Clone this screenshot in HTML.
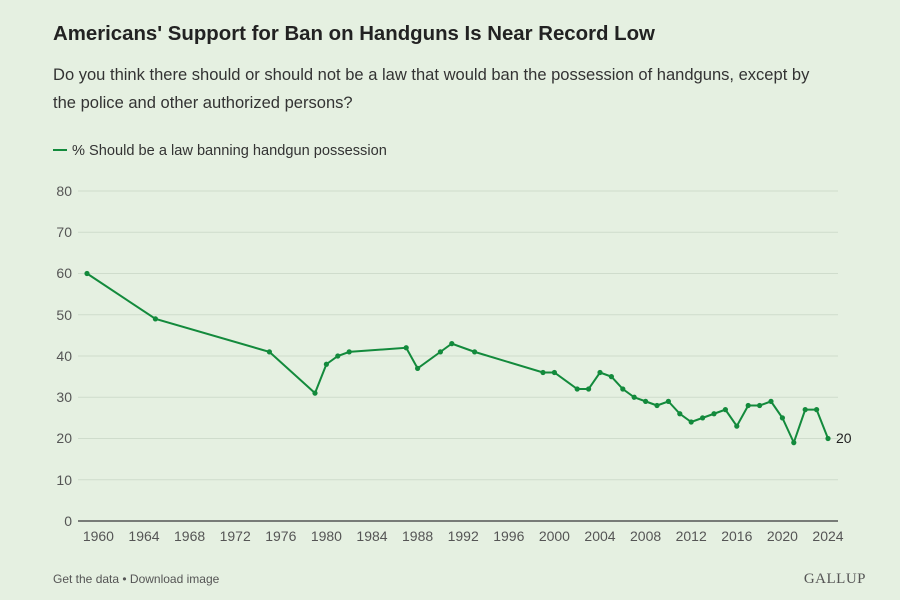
<!DOCTYPE html>
<html><head><meta charset="utf-8"><style>
body{margin:0;background:#e5f0e1;font-family:"Liberation Sans",sans-serif;}
</style></head><body>
<svg width="900" height="600" xmlns="http://www.w3.org/2000/svg" style="display:block;background:#e5f0e1">
<text x="53" y="40" font-size="20.4" font-weight="bold" fill="#222">Americans' Support for Ban on Handguns Is Near Record Low</text>
<text x="53" y="80" font-size="16.55" fill="#333">Do you think there should or should not be a law that would ban the possession of handguns, except by</text>
<text x="53" y="108" font-size="16.55" fill="#333">the police and other authorized persons?</text>
<line x1="53" y1="150" x2="67" y2="150" stroke="#138a3c" stroke-width="2"/>
<text x="72" y="155" font-size="14.6" fill="#333">% Should be a law banning handgun possession</text>
<g stroke="#cfdccc" stroke-width="1">
<line x1="78" x2="838" y1="191" y2="191"/><line x1="78" x2="838" y1="232.25" y2="232.25"/>
<line x1="78" x2="838" y1="273.5" y2="273.5"/><line x1="78" x2="838" y1="314.75" y2="314.75"/>
<line x1="78" x2="838" y1="356" y2="356"/><line x1="78" x2="838" y1="397.25" y2="397.25"/>
<line x1="78" x2="838" y1="438.5" y2="438.5"/><line x1="78" x2="838" y1="479.75" y2="479.75"/>
</g>
<line x1="78" x2="838" y1="521" y2="521" stroke="#555" stroke-width="1.5"/>
<g font-size="14" fill="#555" text-anchor="end">
<text x="72" y="196">80</text><text x="72" y="237">70</text><text x="72" y="278">60</text><text x="72" y="320">50</text>
<text x="72" y="361">40</text><text x="72" y="402">30</text><text x="72" y="443">20</text><text x="72" y="485">10</text><text x="72" y="526">0</text>
</g>
<g font-size="14" fill="#555" text-anchor="middle" id="xl"></g>
<polyline id="pl" fill="none" stroke="#138a3c" stroke-width="2"/>
<g id="pts" fill="#138a3c"></g>
<text x="836" y="443" font-size="14" fill="#222">20</text>
<text x="53" y="583" font-size="12" fill="#555">Get the data • Download image</text>
<text x="866" y="583" font-size="15" fill="#555" text-anchor="end" font-family="Liberation Serif,serif" letter-spacing="0.5">GALLUP</text>
<script>
var d=[[1959,60],[1965,49],[1975,41],[1979,31],[1980,38],[1981,40],[1982,41],[1987,42],[1988,37],[1990,41],[1991,43],[1993,41],[1999,36],[2000,36],[2002,32],[2003,32],[2004,36],[2005,35],[2006,32],[2007,30],[2008,29],[2009,28],[2010,29],[2011,26],[2012,24],[2013,25],[2014,26],[2015,27],[2016,23],[2017,28],[2018,28],[2019,29],[2020,25],[2021,19],[2022,27],[2023,27],[2024,20]];
function X(y){return 828-(2024-y)*11.4}function Y(v){return 521-v*4.125}
var ns="http://www.w3.org/2000/svg",p=[],g=document.getElementById('pts');
d.forEach(function(a){p.push(X(a[0])+','+Y(a[1]));var c=document.createElementNS(ns,'circle');c.setAttribute('cx',X(a[0]));c.setAttribute('cy',Y(a[1]));c.setAttribute('r',2.6);g.appendChild(c);});
document.getElementById('pl').setAttribute('points',p.join(' '));
var xl=document.getElementById('xl');for(var y=1960;y<=2024;y+=4){var t=document.createElementNS(ns,'text');t.setAttribute('x',X(y));t.setAttribute('y',541);t.textContent=y;xl.appendChild(t);}
</script>
</svg>
</body></html>
